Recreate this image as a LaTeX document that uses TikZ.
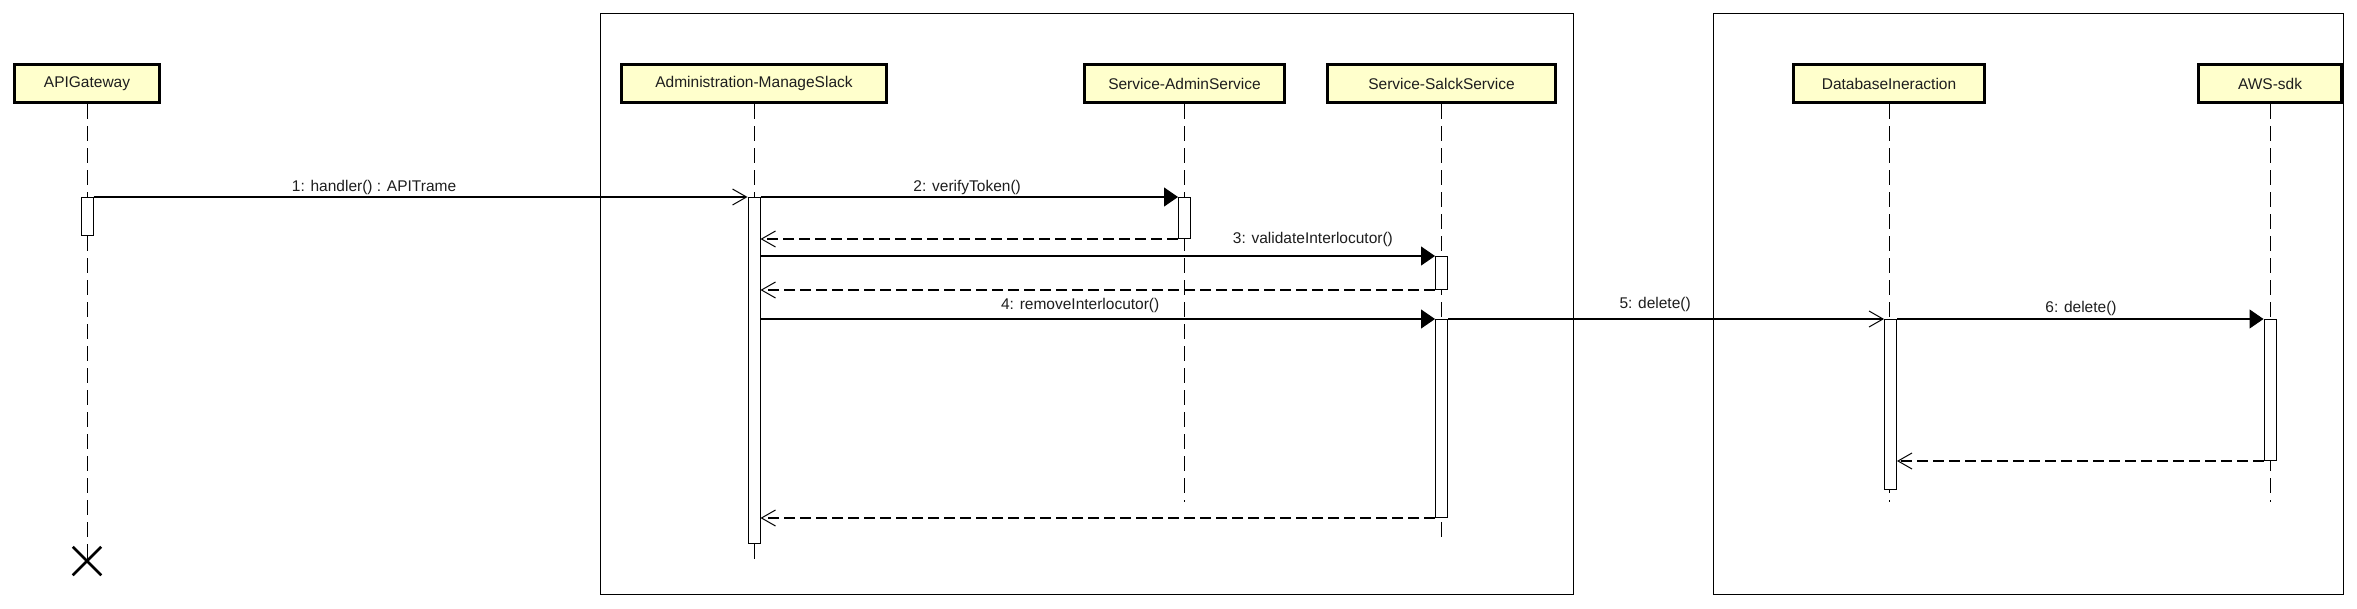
\documentclass[tikz,border=0pt]{standalone}
\usepackage{fontspec}
\setmainfont{Liberation Sans}
\usetikzlibrary{arrows.meta,shapes.misc}
\definecolor{headfill}{RGB}{255,255,204}
\definecolor{txt}{RGB}{30,30,30}
\begin{document}
\begin{tikzpicture}[x=1pt,y=-1pt,
  txtfont/.style={font=\fontsize{15.5}{18}\selectfont, text=txt},
  head/.style={draw, line width=3pt, fill=headfill, minimum height=38pt, inner sep=0pt, txtfont},
  act/.style={draw, fill=white, line width=1pt, minimum width=12pt, inner sep=0pt, anchor=north},
  lifeline/.style={line width=1pt, dash pattern=on 15pt off 7pt},
  frame/.style={draw, line width=1pt},
  msg/.style={line width=1.1pt},
  sync/.style={msg, -{Triangle[length=14pt,width=19pt]}},
  async/.style={msg, -{Straight Barb[length=14pt,width=16pt,line width=1pt]}},
  ret/.style={msg, dash pattern=on 11pt off 5pt, -{Straight Barb[length=14pt,width=16pt,line width=1pt]}},
  lbl/.style={txtfont, inner sep=0pt, anchor=south}
]
\useasboundingbox (0,0) rectangle (2357,608);
\fill[white] (0,0) rectangle (2357,608);

% frames
\draw[frame] (600,13) rectangle (1573,594);
\draw[frame] (1713,13) rectangle (2343,594);

% lifeline heads
\node[head, minimum width=145pt] (api) at (87,83.5) {APIGateway};
\node[head, minimum width=265pt] (adm) at (754,83.5) {Administration-ManageSlack};
\node[head, minimum width=200pt] (svc) at (1184.5,83.5) {Service-AdminService};
\node[head, minimum width=228pt] (slk) at (1441.5,83.5) {Service-SalckService};
\node[head, minimum width=191pt] (db) at (1889,83.5) {DatabaseIneraction};
\node[head, minimum width=143pt] (aws) at (2270,83.5) {AWS-sdk};

% lifeline ends
\node[draw, cross out, minimum size=26pt, line width=2.5pt, inner sep=0pt] (apiX) at (87,561) {};
\coordinate (admEnd) at (754,563);
\coordinate (svcEnd) at (1184.5,502);
\coordinate (slkEnd) at (1441.5,537);
\coordinate (dbEnd) at (1889,502);
\coordinate (awsEnd) at (2270,502);

\draw[lifeline] (api.south) -- (apiX.center);
\draw[lifeline] (adm.south) -- (admEnd);
\draw[lifeline] (svc.south) -- (svcEnd);
\draw[lifeline] (slk.south) -- (slkEnd);
\draw[lifeline] (db.south) -- (dbEnd);
\draw[lifeline] (aws.south) -- (awsEnd);

% activations
\node[act, minimum height=38pt] (apiAct) at (87,197) {};
\node[act, minimum height=346pt] (admAct) at (754,197) {};
\node[act, minimum height=41pt] (svcAct) at (1184.5,197) {};
\node[act, minimum height=33pt] (slkAct1) at (1441.5,256) {};
\node[act, minimum height=198pt] (slkAct2) at (1441.5,319) {};
\node[act, minimum height=170pt] (dbAct) at (1890.5,319) {};
\node[act, minimum height=141pt] (awsAct) at (2270,319) {};

% messages
\draw[async] (apiAct.north east) -- (admAct.north west)
  node[lbl, pos=0.429, above=2pt] {1: handler() : APITrame};
\draw[sync] (admAct.north east) -- (svcAct.north west)
  node[lbl, pos=0.495, above=2pt] {2: verifyToken()};
\draw[ret] (svcAct.south west) -- (svcAct.south west -| admAct.east);
\draw[sync] (slkAct1.north west -| admAct.east) -- (slkAct1.north west)
  node[lbl, pos=0.819, above=9pt] {3: validateInterlocutor()};
\draw[ret] (slkAct1.south west) -- (slkAct1.south west -| admAct.east);
\draw[sync] (slkAct2.north west -| admAct.east) -- (slkAct2.north west)
  node[lbl, pos=0.474, above=6pt] {4: removeInterlocutor()};
\draw[async] (slkAct2.north east) -- (dbAct.north west)
  node[lbl, pos=0.475, above=7pt] {5: delete()};
\draw[sync] (dbAct.north east) -- (awsAct.north west)
  node[lbl, pos=0.502, above=3pt] {6: delete()};
\draw[ret] (awsAct.south west) -- (awsAct.south west -| dbAct.east);
\draw[ret] (slkAct2.south west) -- (slkAct2.south west -| admAct.east);
\end{tikzpicture}
\end{document}
